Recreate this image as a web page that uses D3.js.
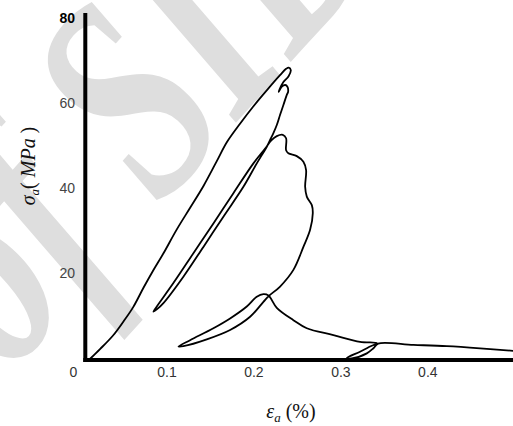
<!DOCTYPE html>
<html><head><meta charset="utf-8">
<script src="https://cdn.jsdelivr.net/npm/d3@7"></script>
<style>body{margin:0;background:#fff} svg{display:block}</style>
</head><body>
<script>
// tick labels
const xTicks = [0.1, 0.2, 0.3, 0.4];
const yTicks = [20, 40, 60, 80];
// axial strain (%) along the recorded curve
const strain = [
  0.012,0.023,0.038,0.050,0.061,0.073,0.084,0.096,0.111,0.127,0.142,0.157,0.169,0.184,0.199,0.215,0.230,0.237,0.240,0.2424,0.2397,0.2339,0.2295,0.2285,
  0.2321,0.2359,0.2385,0.2393,0.2378,0.2339,0.2301,0.2263,0.2224,0.2186,0.2148,
  0.2033,0.1879,0.1649,0.1419,0.1189,0.0959,0.0887,0.0844,
  0.0883,0.1074,0.1304,0.1534,0.1764,0.1994,0.2129,0.2200,0.2263,0.2332,0.2370,0.2370,0.2396,0.2493,0.2569,0.2600,0.2589,0.2608,0.2666,0.2677,0.2646,0.2569,0.2454,0.2301,0.2167,
  0.2109,0.1956,0.1726,0.1458,0.1189,0.1132,
  0.1266,0.1534,0.1726,0.1918,0.2033,0.2109,0.2167,
  0.2263,0.2454,0.2608,0.2914,0.3221,0.3413,
  0.3336,0.3220,0.3068,0.3125,0.3298,0.3374,0.3428,
  0.3834,0.4218,0.4601,0.4981
];
// axial stress (MPa) along the recorded curve
const stress = [
  0,2.2,5.4,8.7,12.0,16.6,20.6,24.7,30.2,35.5,40.5,46.2,50.8,55.1,59.1,63.0,66.5,68.0,68.3,67.7,66.2,64.9,63.2,62.6,
  63.8,64.2,63.8,62.6,61.9,59.5,57.2,54.8,52.9,51.3,49.7,
  45.8,40.3,33.3,26.2,19.2,13.0,11.6,11.0,
  12.2,17.7,24.7,31.7,38.8,45.8,49.3,51.2,52.2,52.5,51.7,48.9,48.2,47.5,46.2,44.2,40.3,38.0,36.0,34.1,30.2,26.2,20.8,16.9,14.6,
  13.3,9.8,6.7,4.5,2.9,2.8,
  4.3,7.1,9.4,12.2,14.5,15.1,14.8,
  11.9,9.0,7.1,5.5,3.9,3.6,
  2.8,1.6,0.1,0,1.2,2.4,3.5,
  3.2,2.9,2.4,1.8
];

const W = 513, H = 426;
const svg = d3.select("body").append("svg").attr("width", W).attr("height", H);

// watermark
svg.append("text")
  .attr("transform", "translate(8,376) rotate(-48) scale(0.82,1.15)")
  .attr("font-family", "Liberation Serif, Times New Roman, serif")
  .attr("font-style", "italic")
  .attr("font-weight", "bold")
  .attr("font-size", 255)
  .attr("fill", "#dedede")
  .text("of SID");

const x = d3.scaleLinear().domain([0, 0.5]).range([80, 514.8]);
const y = d3.scaleLinear().domain([0, 80]).range([358.5, 17.7]);

// axis lines
svg.append("line").attr("x1", 85.3).attr("x2", 85.3).attr("y1", 13).attr("y2", 362)
  .attr("stroke", "#000").attr("stroke-width", 4);
svg.append("line").attr("x1", 83.3).attr("x2", W).attr("y1", 360).attr("y2", 360)
  .attr("stroke", "#000").attr("stroke-width", 4);

// x tick labels
svg.selectAll(".xt").data(xTicks).enter().append("text")
  .attr("x", d => x(d)).attr("y", 377)
  .attr("text-anchor", "middle")
  .attr("font-family", "Liberation Sans, Arial, sans-serif")
  .attr("font-size", 14).attr("fill", "#333")
  .text(d => d3.format(".1f")(d));
svg.append("text").attr("x", 73.3).attr("y", 377).attr("text-anchor", "middle")
  .attr("font-family", "Liberation Sans, Arial, sans-serif")
  .attr("font-size", 14).attr("fill", "#333").text("0");

// y tick labels
svg.selectAll(".yt").data(yTicks).enter().append("text")
  .attr("x", 75).attr("y", d => y(d) + 5)
  .attr("text-anchor", "end")
  .attr("font-family", "Liberation Sans, Arial, sans-serif")
  .attr("font-size", 14)
  .attr("fill", d => d === 80 ? "#000" : "#444")
  .attr("font-weight", d => d === 80 ? "bold" : "normal")
  .text(d => d);

// curve
const pts = strain.map((e, i) => [e, stress[i]]);
const line = d3.line().x(d => x(d[0])).y(d => y(d[1])).curve(d3.curveCatmullRom.alpha(0.5));
svg.append("path").attr("d", line(pts))
  .attr("fill", "none").attr("stroke", "#000").attr("stroke-width", 1.8)
  .attr("stroke-linejoin", "round").attr("stroke-linecap", "round");

// axis titles
const yl = svg.append("text")
  .attr("transform", "translate(35,166) rotate(-90)")
  .attr("text-anchor", "middle")
  .attr("font-family", "Liberation Serif, Times New Roman, serif")
  .attr("font-size", 20).attr("fill", "#111");
yl.append("tspan").attr("font-style", "italic").text("σ");
yl.append("tspan").attr("font-style", "italic").attr("font-size", 13).attr("dy", 4).text("a");
yl.append("tspan").attr("dy", -4).text("( ");
yl.append("tspan").attr("font-style", "italic").text("MPa");
yl.append("tspan").text(" )");

const xl = svg.append("text")
  .attr("x", 291).attr("y", 418)
  .attr("text-anchor", "middle")
  .attr("font-family", "Liberation Serif, Times New Roman, serif")
  .attr("font-size", 20).attr("fill", "#111");
xl.append("tspan").attr("font-style", "italic").text("ε");
xl.append("tspan").attr("font-style", "italic").attr("font-size", 13).attr("dy", 4).text("a");
xl.append("tspan").attr("dy", -4).text(" (%)");
</script>
</body></html>
